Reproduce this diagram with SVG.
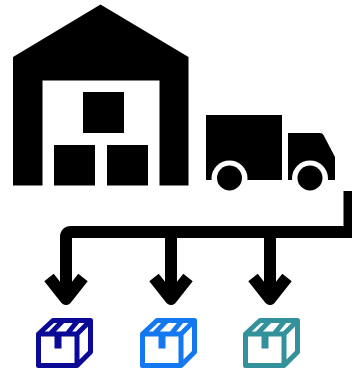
<svg xmlns="http://www.w3.org/2000/svg" width="352" height="370" viewBox="0 0 352 370">
<style>
.arrow{fill:none;stroke:#000;stroke-width:12}
.box{fill:none;stroke-width:5;stroke-linejoin:round}
</style>
<defs>
<g id="parcel">
<path class="box" d="M2.5 16 L17 2.5 H54.5 V34 L41 47.500 H2.500 Z M2.500 16 H41 V47.500 M41 16 L54.500 2.500 M14 16 L27 2.500 M31 16 L42 2.500"/>
<path class="box" stroke-linejoin="miter" d="M21.500 16 V30 H19 M21.500 30 H24" style="stroke-width:0"/>
<rect x="19" y="16" width="6" height="14" fill="currentColor"/>
</g>
</defs>
<rect width="352" height="370" fill="#fff"/>
<g id="warehouse">
<path d="M100.500 4.500 L188.500 57 V185.500 H159.500 V80.500 H42.500 V185.500 H13 V57 Z" fill="#000"/>
<rect x="83" y="92" width="41" height="41" fill="#000"/>
<rect x="54" y="145" width="41" height="40.500" fill="#000"/>
<rect x="107" y="145" width="41" height="40.500" fill="#000"/>
</g>
<g id="truck">
<rect x="206" y="115" width="76" height="65" fill="#000"/>
<path d="M288 133 H320 Q322.500 133 323.500 135 L335 157 V180 H288 Z" fill="#000"/>
<circle cx="229.500" cy="178.500" r="18" fill="#fff"/>
<circle cx="310" cy="178.500" r="18" fill="#fff"/>
<rect x="206" y="180" width="130" height="12" fill="#fff"/>
<circle cx="229.500" cy="178" r="12.500" fill="#000"/>
<circle cx="310" cy="178" r="12.500" fill="#000"/>
</g>
<g id="connectors">
<path d="M349.500 191 V232 H71 Q66 232 66 237 V296" class="arrow"/>
<path d="M171 232 V296 M270 232 V296" class="arrow"/>
<path d="M49 277.500 L66 299 L83 277.500 M154 277.500 L171 299 L188 277.500 M253 277.500 L270 299 L287 277.500" class="arrow" stroke-linejoin="round"/>
</g>
<g id="box1" transform="translate(36 318)" color="#0a0a96" stroke="#0a0a96"><use href="#parcel"/></g>
<g id="box2" transform="translate(140 318)" color="#1478f0" stroke="#1478f0"><use href="#parcel"/></g>
<g id="box3" transform="translate(243 318)" color="#32919b" stroke="#32919b"><use href="#parcel"/></g>
</svg>
